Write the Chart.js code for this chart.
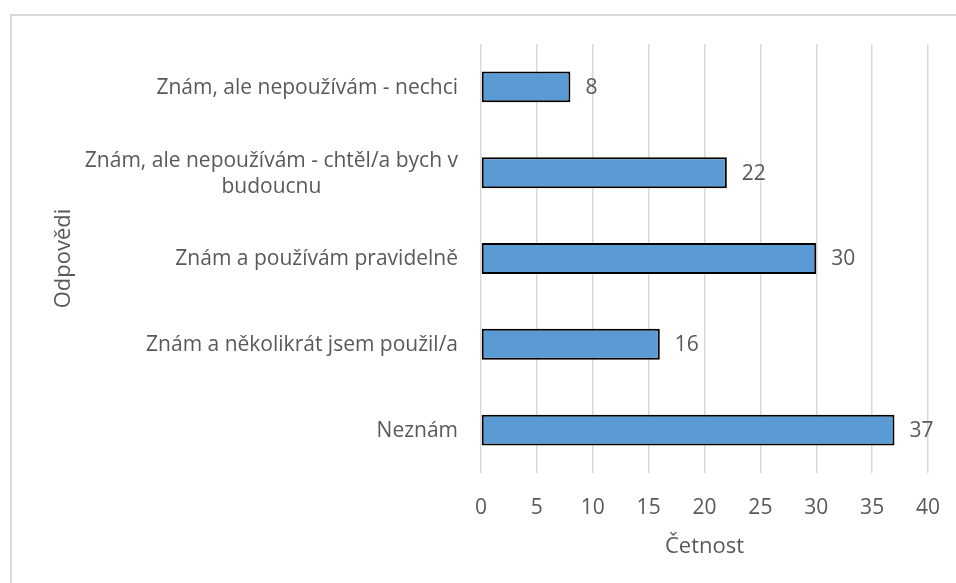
<!DOCTYPE html>
<html>
<head>
<meta charset="utf-8">
<script src="https://cdn.jsdelivr.net/npm/chart.js@4"></script>
<style>
  html, body { margin: 0; padding: 0; background: #fff; overflow: hidden; }
  #wrap { position: relative; width: 956px; height: 583px; }
  #frame { position: absolute; left: 10px; top: 14px; width: 1000px; height: 700px; border: 2px solid #d9d9d9; box-sizing: border-box; }
  #chart { position: absolute; left: 0; top: 0; }
</style>
</head>
<body>
<div id="wrap">
  <div id="frame"></div>
  <canvas id="chart" width="956" height="583"></canvas>
</div>
<script>
// data
const categories = [
    'Znám, ale nepoužívám - nechci',
    ['Znám, ale nepoužívám - chtěl/a bych v', 'budoucnu'],
    'Znám a používám pravidelně',
    'Znám a několikrát jsem použil/a',
    'Neznám'
];
const counts = [8, 22, 30, 16, 37];
const xMin = 0, xMax = 40, xStep = 5;

const textColor = '#595959';
const fontFamily = "'Open Sans', sans-serif";
const labelFont = { family: fontFamily, size: 21 };
const titleFont = { family: fontFamily, size: 22 };

// y category labels: right aligned block, lines centered inside it (like Excel)
const yLabels = {
    id: 'yLabels',
    afterDraw(chart) {
        const ctx = chart.ctx;
        const yScale = chart.scales.y;
        const area = chart.chartArea;
        ctx.save();
        ctx.font = labelFont.size + 'px ' + fontFamily;
        ctx.fillStyle = textColor;
        ctx.textAlign = 'center';
        ctx.textBaseline = 'middle';
        chart.data.labels.forEach((lab, i) => {
            const lines = Array.isArray(lab) ? lab : [lab];
            const w = Math.max(...lines.map(l => ctx.measureText(l).width));
            const cx = area.left - 23 - w / 2;
            const cy = yScale.getPixelForValue(i);
            lines.forEach((l, j) => {
                ctx.fillText(l, cx, cy + 1 + (j - (lines.length - 1) / 2) * 26);
            });
        });
        ctx.restore();
    }
};

// value labels at the end of each bar
const valueLabels = {
    id: 'valueLabels',
    afterDatasetsDraw(chart) {
        const ctx = chart.ctx;
        const meta = chart.getDatasetMeta(0);
        ctx.save();
        ctx.font = labelFont.size + 'px ' + fontFamily;
        ctx.fillStyle = textColor;
        ctx.textAlign = 'left';
        ctx.textBaseline = 'middle';
        meta.data.forEach((bar, i) => {
            ctx.fillText(chart.data.datasets[0].data[i], bar.x + 15, bar.y + 1);
        });
        ctx.restore();
    }
};

new Chart(document.getElementById('chart').getContext('2d'), {
    type: 'bar',
    data: {
        labels: categories,
        datasets: [{
            data: counts,
            backgroundColor: '#5b9bd5',
            borderColor: '#000000',
            borderWidth: 2,
            borderSkipped: false,
            barPercentage: 0.36,
            categoryPercentage: 1
        }]
    },
    options: {
        indexAxis: 'y',
        responsive: false,
        animation: false,
        layout: { padding: { left: 0, top: 44, right: 28, bottom: 0 } },
        plugins: {
            legend: { display: false },
            tooltip: { enabled: false }
        },
        scales: {
            x: {
                min: xMin,
                max: xMax,
                ticks: { stepSize: xStep, color: textColor, font: labelFont, padding: 22 },
                grid: { color: '#d9d9d9', lineWidth: 1.5, drawTicks: false },
                border: { display: false },
                title: { display: true, text: 'Četnost', color: textColor, font: titleFont, padding: { top: 0, bottom: 23 } },
                afterFit(scale) {
                    scale.height = 110;
                    scale.paddingLeft = 0;
                    scale.paddingRight = 0;
                }
            },
            y: {
                ticks: { display: false },
                grid: { display: false },
                border: { display: false },
                title: { display: true, text: 'Odpovědi', color: textColor, font: titleFont, padding: { top: 51 } },
                afterFit(scale) { scale.width = 481; }
            }
        }
    },
    plugins: [yLabels, valueLabels]
});
</script>
</body>
</html>
